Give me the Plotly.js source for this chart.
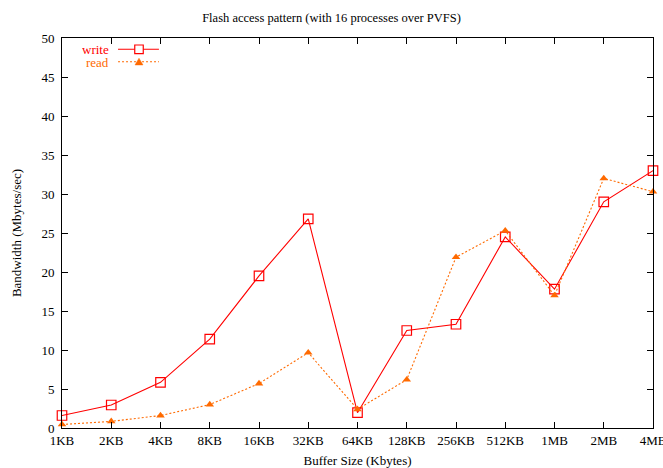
<!DOCTYPE html>
<html><head><meta charset="utf-8">
<script src="https://cdn.plot.ly/plotly-3.0.1.min.js"></script>
<style>html,body{margin:0;padding:0;background:#fff}#c{width:663px;height:468px}</style>
</head><body><div id="c"></div>
<script>
const categories = ["1KB","2KB","4KB","8KB","16KB","32KB","64KB","128KB","256KB","512KB","1MB","2MB","4MB"];
const writeValues = [1.6, 2.95, 5.85, 11.4, 19.5, 26.8, 1.96, 12.5, 13.3, 24.5, 17.8, 29.0, 33.0];
const readValues = [0.45, 0.85, 1.6, 3.0, 5.7, 9.65, 2.4, 6.2, 21.9, 25.3, 17.0, 32.0, 30.3];
const yTicks = [0,5,10,15,20,25,30,35,40,45,50];

const font = {family: "Liberation Serif, Times New Roman, serif", size: 13, color: "#000"};
const writeColor = "#ff0000", readColor = "#ff6a00";

const traces = [
  {x: categories, y: writeValues, type: "scatter", mode: "lines+markers", name: "write",
   line: {color: writeColor, width: 1.1},
   marker: {symbol: "square-open", size: 9.5, color: writeColor, line: {width: 1.2, color: writeColor}},
   cliponaxis: false},
  {x: categories, y: readValues, type: "scatter", mode: "lines+markers", name: "read",
   line: {color: readColor, width: 1.1, dash: "2px,2px"},
   marker: {symbol: "triangle-up", size: 7.5, color: readColor},
   cliponaxis: false}
];

const layout = {
  width: 663, height: 468,
  margin: {l: 62, r: 10, t: 38, b: 40},
  paper_bgcolor: "#fff", plot_bgcolor: "#fff",
  font: font,
  showlegend: false,
  title: {text: "Flash access pattern (with 16 processes over PVFS)", font: {family: font.family, size: 12.5, color: "#000"}, x: 0.5, xanchor: "center", y: 0.963, yanchor: "middle"},
  xaxis: {type: "category", range: [0, 12], showgrid: false, zeroline: false,
    showline: true, linecolor: "#000", linewidth: 1, mirror: "ticks",
    ticks: "inside", ticklen: 6, tickcolor: "#000",
    tickfont: {family: font.family, size: 13, color: "#000"},
    title: {text: "Buffer Size (Kbytes)", font: {family: font.family, size: 13, color: "#000"}, standoff: 9}},
  yaxis: {range: [0, 50], tickvals: yTicks, showgrid: false, zeroline: false,
    showline: true, linecolor: "#000", linewidth: 1, mirror: "ticks",
    ticks: "inside", ticklen: 6, tickcolor: "#000", ticklabelstandoff: 4,
    tickfont: {family: font.family, size: 13, color: "#000"},
    title: {text: "Bandwidth (Mbytes/sec)", font: {family: font.family, size: 13, color: "#000"}, standoff: 16}},
  annotations: [
    {xref: "paper", yref: "paper", x: 0.0, y: 0.971, xshift: 48, text: "write", showarrow: false, xanchor: "right", yanchor: "middle", height: 12, borderpad: 0, font: {family: font.family, size: 13, color: writeColor}},
    {xref: "paper", yref: "paper", x: 0.0, y: 0.939, xshift: 48, text: "read", showarrow: false, xanchor: "right", yanchor: "middle", height: 12, borderpad: 0, font: {family: font.family, size: 13, color: readColor}}
  ],
  shapes: [
    {type: "line", xref: "paper", yref: "paper", x0: 0.0948, x1: 0.164, y0: 0.971, y1: 0.971, line: {color: writeColor, width: 1.1}},
    {type: "rect", xref: "paper", yref: "paper", x0: 0.1303 - 0.0072, x1: 0.1303 + 0.0072, y0: 0.971 - 0.011, y1: 0.971 + 0.011, line: {color: writeColor, width: 1.2}, fillcolor: "#fff"},
    {type: "line", xref: "paper", yref: "paper", x0: 0.0948, x1: 0.164, y0: 0.939, y1: 0.939, line: {color: readColor, width: 1.1, dash: "2px,2px"}},
    {type: "path", xref: "paper", yref: "paper", path: "M 0.1236 0.931 L 0.137 0.931 L 0.1303 0.948 Z", line: {color: readColor, width: 0.5}, fillcolor: readColor}
  ]
};

Plotly.newPlot("c", traces, layout, {staticPlot: true, displayModeBar: false});
</script>
</body></html>
